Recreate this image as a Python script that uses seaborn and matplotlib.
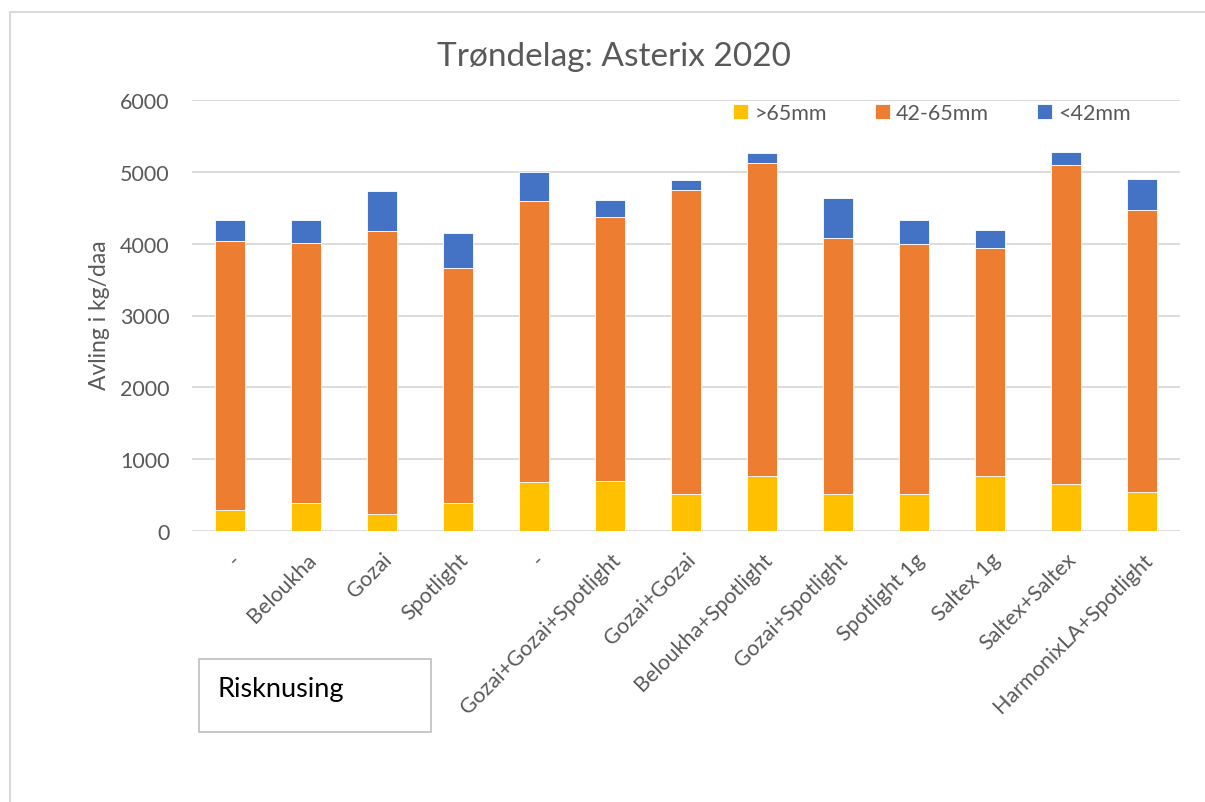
import matplotlib
matplotlib.use("Agg")
import matplotlib.pyplot as plt
import seaborn as sns
import numpy as np
from matplotlib.patches import Rectangle
from matplotlib.lines import Line2D

categories = ["-", "Beloukha", "Gozai", "Spotlight", "-", "Gozai+Gozai+Spotlight",
              "Gozai+Gozai", "Beloukha+Spotlight", "Gozai+Spotlight", "Spotlight 1g",
              "Saltex 1g", "Saltex+Saltex", "HarmonixLA+Spotlight"]
# stacked segments
over65 = [290, 390, 235, 385, 680, 693, 516, 762, 516, 516, 762, 655, 545]
mid_42_65 = [3745, 3625, 3947, 3273, 3911, 3675, 4229, 4359, 3564, 3485, 3183, 4438, 3925]
under42 = [293, 312, 557, 487, 409, 238, 148, 140, 562, 330, 247, 182, 428]

series_names = [">65mm", "42-65mm", "<42mm"]
colors = ["#FFC000", "#ED7D31", "#4472C4"]
yticks = [0, 1000, 2000, 3000, 4000, 5000, 6000]

sns.set_theme(style="white")
plt.rcParams['font.family'] = ['Lato', 'DejaVu Sans']

W, H = 1205, 803
fig = plt.figure(figsize=(W / 100, H / 100), dpi=100)
ax = fig.add_axes([192 / W, 1 - 532 / H, (1180 - 192) / W, (532 - 101) / H])

pos = list(range(len(categories)))
a = np.array(over65)
b = np.array(mid_42_65)
c = np.array(under42)
bottoms = [np.zeros(len(a)), a, a + b]
for vals, bot, col, name in zip([a, b, c], bottoms, colors, series_names):
    sns.barplot(x=pos, y=vals, bottom=bot, color=col, width=0.4, ax=ax,
                edgecolor="white", linewidth=0.6, label=name, saturation=1)

ax.set_ylim(0, 6000)
ax.set_xlim(-0.5, len(categories) - 0.5)
ax.set_yticks(yticks)
ax.set_yticklabels([str(v) for v in yticks], fontsize=15.5, color="#595959")
ax.tick_params(axis="y", length=0, pad=16)
ax.tick_params(axis="x", length=0, pad=13)
ax.set_xticks(pos)
ax.set_xticklabels(categories, rotation=45, ha="right", rotation_mode="anchor",
                   fontsize=15.5, color="#595959")
ax.yaxis.grid(True, color="#D9D9D9", linewidth=1.3)
ax.set_axisbelow(True)
for s in ax.spines.values():
    s.set_visible(False)
ax.set_xlabel("")
ax.set_ylabel("")

fig.text(100 / W, 1 - 315 / H, "Avling i kg/daa", rotation=90, ha="center", va="center",
         fontsize=16.5, color="#595959")
fig.text(614 / W, 1 - 57 / H, "Trøndelag: Asterix 2020", ha="center", va="center",
         fontsize=24, color="#595959")

handles, labels = ax.get_legend_handles_labels()
leg = ax.legend(handles, labels, ncol=3, loc="center",
                bbox_to_anchor=(932 / W, 1 - 114 / H), bbox_transform=fig.transFigure,
                frameon=False, fontsize=15.5, handlelength=0.7, handleheight=0.7,
                handletextpad=0.3, columnspacing=2.2, labelcolor="#595959")

# Risknusing box
fig.patches.append(Rectangle((199 / W, 1 - 733 / H), 232 / W, 73 / H,
                             transform=fig.transFigure, fill=False,
                             edgecolor="#BFBFBF", linewidth=1.2))
fig.text(218 / W, 1 - 690 / H, "Risknusing", ha="left", va="center",
         fontsize=19.5, color="black")

# outer chart border (top and left)
fig.lines.append(Line2D([10 / W, 10 / W], [0, 1 - 13 / H], transform=fig.transFigure,
                        color="#D9D9D9", linewidth=1.5))
fig.lines.append(Line2D([10 / W, 1], [1 - 13 / H, 1 - 13 / H], transform=fig.transFigure,
                        color="#D9D9D9", linewidth=1.5))

fig.savefig("out.png", dpi=100, facecolor="white")
